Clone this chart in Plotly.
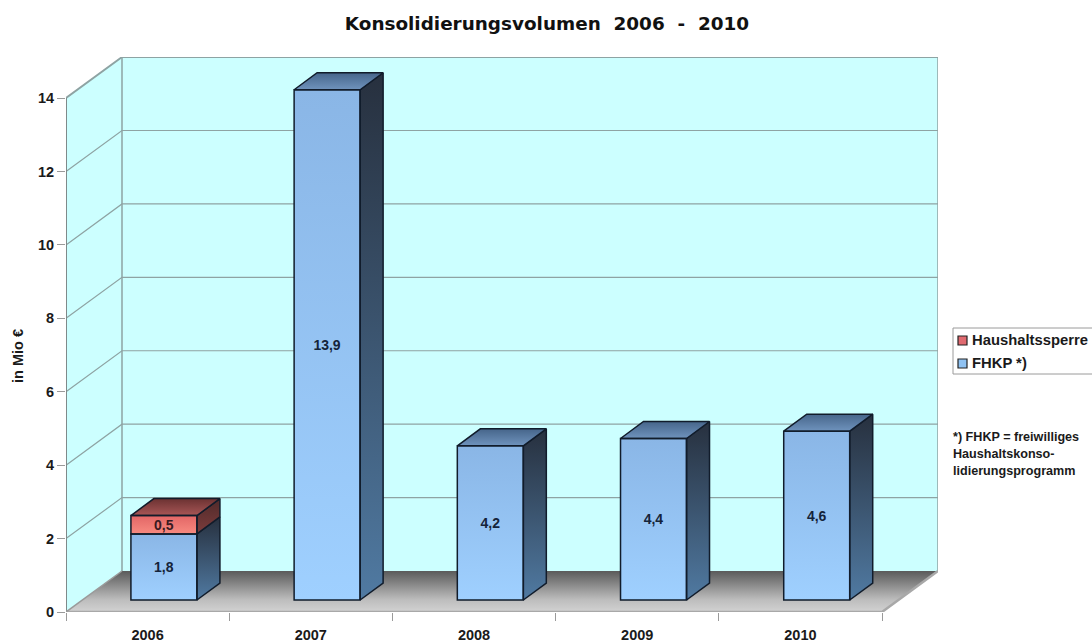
import plotly.graph_objects as go

years = ["2006", "2007", "2008", "2009", "2010"]
fhkp = [1.8, 13.9, 4.2, 4.4, 4.6]
sperre = [0.5, None, None, None, None]
y_ticks = [0, 2, 4, 6, 8, 10, 12, 14]
title = "Konsolidierungsvolumen\u00a0 2006\u00a0 -\u00a0 2010"
y_label = "in Mio €"
legend_names = ["Haushaltssperre", "FHKP *)"]
note_lines = ["*) FHKP = freiwilliges", "Haushaltskonso-", "lidierungsprogramm"]

W, H = 1092, 642
LEFT, RIGHT, BOTTOM, TOP = 66, 938, 612, 57
PX_X = 163.2
PX_Y = 36.71
XMAX = (RIGHT - LEFT) / PX_X
YMAX = (BOTTOM - TOP) / PX_Y
N = len(years)
WALL_DX = (RIGHT - LEFT - N * PX_X) / PX_X
WALL_DY = 41 / PX_Y
BAR_DX = 23 / PX_X
BAR_DY = 17 / PX_Y
BAR_W = 66 / PX_X
BAR_BASE = 12 / PX_Y
BAR_SHIFT = 0.6
FONT = "Liberation Sans"
INK = "#111c2b"
GRID = "#8ea3a3"
EDGE = "#9a9a9a"

fig = go.Figure()


def poly(xs, ys, c0, c1=None, line=None, lw=1.5, mid=None):
    kw = dict(x=list(xs) + [xs[0]], y=list(ys) + [ys[0]], mode="lines", fill="toself",
              hoverinfo="skip", showlegend=False,
              line=dict(color=line or "rgba(0,0,0,0)", width=lw if line else 0))
    if c1:
        scale = [[0, c0]] + ([mid] if mid else []) + [[1, c1]]
        kw["fillgradient"] = dict(type="vertical", colorscale=scale)
    else:
        kw["fillcolor"] = c0
    fig.add_trace(go.Scatter(**kw))


def seg(xs, ys, color, w):
    fig.add_trace(go.Scatter(x=xs, y=ys, mode="lines", hoverinfo="skip", showlegend=False,
                             line=dict(color=color, width=w)))


# walls and floor
poly([WALL_DX, N + WALL_DX, N + WALL_DX, WALL_DX], [WALL_DY, WALL_DY, 14 + WALL_DY, 14 + WALL_DY], "#ccffff")
poly([0, WALL_DX, WALL_DX, 0], [0, WALL_DY, 14 + WALL_DY, 14], "#ccffff")
poly([0, N, N + WALL_DX, WALL_DX], [0, 0, WALL_DY, WALL_DY], "#d2d2d2", "#5a5a5a", mid=[0.3, "#bdbdbd"])

# gridlines
for t in y_ticks[1:]:
    seg([0, WALL_DX, N + WALL_DX], [t, t + WALL_DY, t + WALL_DY], GRID, 1.2 if t < 14 else 2)
seg([WALL_DX, WALL_DX], [WALL_DY, 14 + WALL_DY], GRID, 1.5)
seg([N + WALL_DX, N + WALL_DX], [WALL_DY, 14 + WALL_DY], GRID, 1.5)
seg([0, 0], [0, 14], "#7f8a8a", 2)
seg([0, N, N + WALL_DX], [0, 0, WALL_DY], "#a8a8a8", 2.5)
seg([0, WALL_DX], [0, WALL_DY], EDGE, 1.5)


def block(i, lo, hi, front0, front1, side0, side1, top0=None, top1=None):
    a = i + BAR_SHIFT - BAR_W / 2
    b = i + BAR_SHIFT + BAR_W / 2
    poly([a, b, b, a], [lo, lo, hi, hi], front0, front1)
    poly([b, b + BAR_DX, b + BAR_DX, b], [lo, lo + BAR_DY, hi + BAR_DY, hi], side0, side1, INK)
    if top0:
        poly([a, b, b + BAR_DX, a + BAR_DX], [hi, hi, hi + BAR_DY, hi + BAR_DY], top0, top1, INK)


for i, v in enumerate(fhkp):
    s = sperre[i]
    block(i, BAR_BASE, BAR_BASE + v, "#9fd0ff", "#8ab6e6", "#507aa2", "#27303e",
          None if s else "#6f93bd", None if s else "#46658a")
    if s:
        block(i, BAR_BASE + v, BAR_BASE + v + s, "#f88a80", "#e26666", "#7d3c3c", "#4f2a2a",
              "#a85656", "#6b3232")

# bars carrying values, outlines and labels, drawn over the gradients
front_x = [i + BAR_SHIFT for i in range(N)]
fig.add_trace(go.Bar(x=front_x, y=fhkp, base=[BAR_BASE] * N, width=BAR_W, name=legend_names[1],
                     marker=dict(color="rgba(0,0,0,0)", line=dict(color=INK, width=1.5)),
                     text=[f"{v:.1f}".replace(".", ",") for v in fhkp],
                     textposition="inside", insidetextanchor="middle", textangle=0,
                     constraintext="none",
                     insidetextfont=dict(family=FONT, size=14, color="#14233a", weight="bold"),
                     xaxis="x2", yaxis="y2", showlegend=False, hoverinfo="skip"))
fig.add_trace(go.Bar(x=front_x, y=sperre, base=[BAR_BASE + v for v in fhkp], width=BAR_W,
                     name=legend_names[0],
                     marker=dict(color="rgba(0,0,0,0)", line=dict(color=INK, width=1.5)),
                     text=[f"{v:.1f}".replace(".", ",") if v else "" for v in sperre],
                     textposition="inside", insidetextanchor="middle", textangle=0,
                     constraintext="none",
                     insidetextfont=dict(family=FONT, size=14, color="#3a1a22", weight="bold"),
                     xaxis="x2", yaxis="y2", showlegend=False, hoverinfo="skip"))


def px(x):
    return x / W


def py(y):
    return 1 - y / H


dom_x = [px(LEFT), px(RIGHT)]
dom_y = [py(BOTTOM), py(TOP)]

shapes = [
    dict(type="rect", xref="paper", yref="paper", x0=px(953), x1=px(1100), y0=py(374), y1=py(328),
         line=dict(color="#9a9a9a", width=1), fillcolor="white", layer="below"),
    dict(type="rect", xref="paper", yref="paper", x0=px(958), x1=px(967), y0=py(345), y1=py(336),
         line=dict(color="#222222", width=1.2), fillcolor="#e06a70"),
    dict(type="rect", xref="paper", yref="paper", x0=px(958), x1=px(967), y0=py(368), y1=py(359),
         line=dict(color="#222222", width=1.2), fillcolor="#8fc2f2"),
]


def note(text, x, y, size=12, angle=0, anchor="left"):
    return dict(text=text, xref="paper", yref="paper", x=px(x), y=py(y), showarrow=False,
                xanchor=anchor, yanchor="middle", textangle=angle,
                font=dict(family=FONT, size=size, color="#1a1a1a", weight="bold"))


annotations = [
    note(y_label, 18, 356, 14.5, -90, "center"),
    note(legend_names[0], 970, 340, 14.8),
    note(legend_names[1], 970, 363, 14.8),
    note(note_lines[0], 951, 437, 12.6),
    note(note_lines[1], 951, 454, 12.6),
    note(note_lines[2], 951, 471, 12.6),
]

fig.update_layout(
    width=W, height=H, margin=dict(l=0, r=0, t=0, b=0, autoexpand=False),
    paper_bgcolor="white", plot_bgcolor="rgba(0,0,0,0)", barmode="overlay", showlegend=False,
    title=dict(text=title, x=547 / W, xanchor="center", y=py(24), yanchor="middle",
               font=dict(family="DejaVu Sans", size=18.4, color="#111111", weight="bold")),
    xaxis=dict(domain=dom_x, range=[0, XMAX], showgrid=False, zeroline=False, showline=False,
               tickmode="array", tickvals=[i + 0.5 for i in range(N)], ticktext=years,
               ticks="outside", ticklen=10, tickcolor="rgba(0,0,0,0)",
               minor=dict(tickmode="array", tickvals=list(range(N + 1)), ticks="outside",
                          ticklen=8, tickcolor=EDGE, tickwidth=1.2, showgrid=False),
               tickfont=dict(family=FONT, size=14.5, color="#1a1a1a", weight="bold")),
    yaxis=dict(domain=dom_y, range=[0, YMAX], showgrid=False, zeroline=False, showline=False,
               tickmode="array", tickvals=y_ticks, ticks="outside", ticklen=8, tickcolor=EDGE,
               tickwidth=1.2, tickfont=dict(family=FONT, size=14.5, color="#1a1a1a", weight="bold")),
    xaxis2=dict(overlaying="x", domain=dom_x, range=[0, XMAX], visible=False, anchor="y2"),
    yaxis2=dict(overlaying="y", domain=dom_y, range=[0, YMAX], visible=False, anchor="x2"),
    shapes=shapes, annotations=annotations,
)

fig.write_html("out.html", post_script="document.body.style.margin='0';",
               config={"displayModeBar": False})
